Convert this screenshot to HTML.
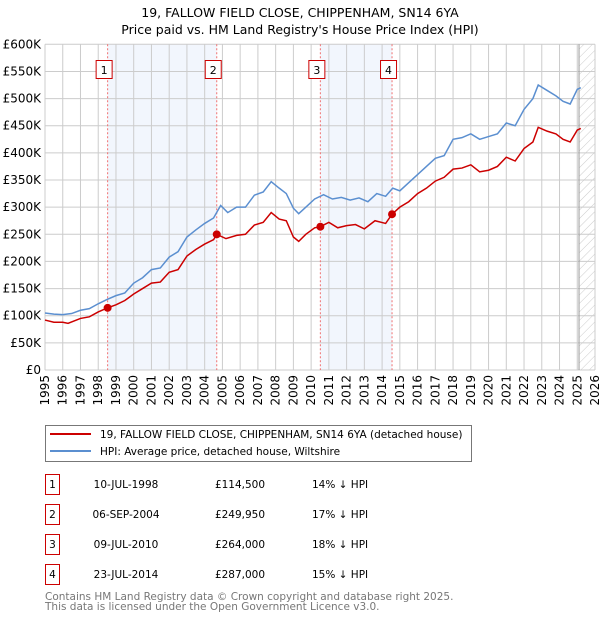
<!DOCTYPE html>
<html><head><meta charset="utf-8"><style>
body{margin:0;background:#fff;font-family:"Liberation Sans","DejaVu Sans",sans-serif}
svg text{font-family:"DejaVu Sans","Liberation Sans",sans-serif}
</style></head><body>
<svg id="c" width="600" height="620" viewBox="0 0 600 620" xmlns="http://www.w3.org/2000/svg">
<defs><pattern id="hatch" width="6" height="6" patternUnits="userSpaceOnUse" patternTransform="rotate(45)"><line x1="0" y1="0" x2="0" y2="6" stroke="#ccc" stroke-width="1"/></pattern></defs>
<text x="300" y="17" text-anchor="middle" font-size="12.5">19, FALLOW FIELD CLOSE, CHIPPENHAM, SN14 6YA</text>
<text x="300" y="34" text-anchor="middle" font-size="12.5">Price paid vs. HM Land Registry's House Price Index (HPI)</text>
<g id="plot"></g>
<g>
<rect x="45.5" y="425.5" width="426" height="36" fill="#fff" stroke="#777"/>
<line x1="50" y1="434" x2="91" y2="434" stroke="#cc0000" stroke-width="2"/>
<text x="100" y="438" font-size="10.5">19, FALLOW FIELD CLOSE, CHIPPENHAM, SN14 6YA (detached house)</text>
<line x1="50" y1="451" x2="91" y2="451" stroke="#5b8fd0" stroke-width="2"/>
<text x="100" y="455" font-size="10.5">HPI: Average price, detached house, Wiltshire</text>
</g>
<g id="table" font-size="10.5"></g>
<text x="45" y="600" font-size="10.5" fill="#777">Contains HM Land Registry data © Crown copyright and database right 2025.</text>
<text x="45" y="610" font-size="10.5" fill="#777">This data is licensed under the Open Government Licence v3.0.</text>
</svg>
<script>
const hpiYears=[1995,1995.5,1996,1996.5,1997,1997.5,1998,1998.5,1999,1999.5,2000,2000.5,2001,2001.5,2002,2002.5,2003,2003.5,2004,2004.5,2004.9,2005.3,2005.8,2006.3,2006.8,2007.3,2007.75,2008.2,2008.6,2009.0,2009.3,2009.7,2010.2,2010.7,2011.2,2011.7,2012.2,2012.7,2013.2,2013.7,2014.2,2014.6,2015.0,2015.5,2016.0,2016.5,2017.0,2017.5,2018.0,2018.5,2019.0,2019.5,2020.0,2020.5,2021.0,2021.5,2022.0,2022.5,2022.8,2023.3,2023.8,2024.2,2024.6,2025.0,2025.2];
const hpiValues=[105,103,102,104,110,113,122,130,137,142,160,170,185,188,208,218,245,258,270,280,303,290,300,300,322,328,347,335,325,298,288,300,315,323,315,318,313,317,310,325,320,335,330,345,360,375,390,395,425,428,435,425,430,435,455,450,480,500,525,515,505,495,490,517,520];
const priceYears=[1995,1995.5,1996,1996.3,1997,1997.5,1998,1998.53,1999,1999.5,2000,2000.5,2001,2001.5,2002,2002.5,2003,2003.5,2004,2004.5,2004.68,2005.2,2005.8,2006.3,2006.8,2007.3,2007.75,2008.2,2008.6,2009.0,2009.3,2009.7,2010.2,2010.52,2011,2011.5,2012,2012.5,2013,2013.6,2014.2,2014.56,2015,2015.5,2016,2016.5,2017,2017.5,2018,2018.5,2019,2019.5,2020,2020.5,2021,2021.5,2022,2022.5,2022.8,2023.3,2023.8,2024.2,2024.6,2025,2025.2];
const priceValues=[92,88,88,86,95,98,107,114.5,120,128,140,150,160,162,180,185,210,222,232,240,250,242,248,250,267,272,290,278,275,245,237,250,262,264,272,262,266,268,260,275,270,287,300,310,325,335,348,355,370,372,378,365,368,375,392,385,408,420,447,440,435,425,420,442,445];
const saleYears=[1998.53,2004.68,2010.52,2014.56];
const saleValues=[114.5,249.95,264,287];
const saleLabels=["1","2","3","4"];
const saleDates=["10-JUL-1998","06-SEP-2004","09-JUL-2010","23-JUL-2014"];
const salePrices=["£114,500","£249,950","£264,000","£287,000"];
const saleDiffs=["14% ↓ HPI","17% ↓ HPI","18% ↓ HPI","15% ↓ HPI"];
const yTicks=[0,50,100,150,200,250,300,350,400,450,500,550,600];
const yTickLabels=["£0","£50K","£100K","£150K","£200K","£250K","£300K","£350K","£400K","£450K","£500K","£550K","£600K"];
const xTicks=[1995,1996,1997,1998,1999,2000,2001,2002,2003,2004,2005,2006,2007,2008,2009,2010,2011,2012,2013,2014,2015,2016,2017,2018,2019,2020,2021,2022,2023,2024,2025,2026];
const dataEnd=2025.1;

const X0=45,X1=595,Y0=370,Y1=44.3;
const xs=y=>X0+(y-1995)/(2026-1995)*(X1-X0);
const ys=v=>Y0-v/600*(Y0-Y1);
const NS="http://www.w3.org/2000/svg";
const plot=document.getElementById('plot');
function mk(tag,attrs,parent){const e=document.createElementNS(NS,tag);for(const k in attrs)e.setAttribute(k,attrs[k]);(parent||plot).appendChild(e);return e;}

for(let i=0;i<saleYears.length;i+=2){
  const r=mk('rect',{x:xs(saleYears[i]),y:Y1,width:xs(saleYears[i+1])-xs(saleYears[i]),height:Y0-Y1,fill:'#f2f6fd'});
  
  
}
const h=mk('rect',{x:xs(dataEnd),y:Y1,width:X1-xs(dataEnd),height:Y0-Y1,fill:'url(#hatch)'});


yTicks.forEach((t,i)=>{
  const l=mk('line',{x1:X0,x2:X1,y1:ys(t),y2:ys(t),stroke:'#ccc','stroke-width':1});
  
  
  const tx=mk('text',{x:X0-4,y:ys(t)+4,'text-anchor':'end','font-size':12});
  tx.textContent=yTickLabels[i];
  
  
});
xTicks.forEach(t=>{
  const l=mk('line',{x1:xs(t),x2:xs(t),y1:Y1,y2:Y0,stroke:'#ccc','stroke-width':1});
  
  
  const tx=mk('text',{x:0,y:0,'text-anchor':'end','font-size':12,transform:`translate(${xs(t)+4},${Y0+5}) rotate(-90)`});
  tx.textContent=String(t);
  
  
});
const el=mk('line',{x1:xs(dataEnd),x2:xs(dataEnd),y1:Y1,y2:Y0,stroke:'#999','stroke-width':1});


saleYears.forEach((s,i)=>{
  const l=mk('line',{x1:xs(s),x2:xs(s),y1:Y1,y2:Y0,stroke:'#f07070','stroke-width':1,'stroke-dasharray':'2,2'});
  
  
  const b=mk('rect',{x:xs(s)-11.5,y:60.5,width:16,height:18,fill:'#fff',stroke:'#cc0000'});
  
  
  const t=mk('text',{x:xs(s)-3.5,y:74,'text-anchor':'middle','font-size':11});
  t.textContent=saleLabels[i];
  
  
});
const hp=mk('polyline',{points:hpiYears.map((y,i)=>xs(y)+','+ys(hpiValues[i])).join(' '),fill:'none',stroke:'#5b8fd0','stroke-width':1.5});


const pp=mk('polyline',{points:priceYears.map((y,i)=>xs(y)+','+ys(priceValues[i])).join(' '),fill:'none',stroke:'#cc0000','stroke-width':1.5});


saleYears.forEach((s,i)=>{
  const c=mk('circle',{cx:xs(s),cy:ys(saleValues[i]),r:4,fill:'#cc0000'});
  
  
});
const tb=document.getElementById('table');
saleLabels.forEach((lab,i)=>{
  const y=483+i*30;
  const b=mk('rect',{x:45.5,y:y-8.5,width:14,height:20,fill:'#fff',stroke:'#cc0000'},tb);
  
  
  const cells=[[52.5,lab,'middle'],[126,saleDates[i],'middle'],[240,salePrices[i],'middle'],[312,saleDiffs[i],'start']];
  cells.forEach(([x,txt,a],j)=>{
    const t=mk('text',{x:x,y:y+5,'text-anchor':a,'font-size':10.5},tb);
    t.textContent=txt;
    
    
  });
});
</script>
</body></html>
